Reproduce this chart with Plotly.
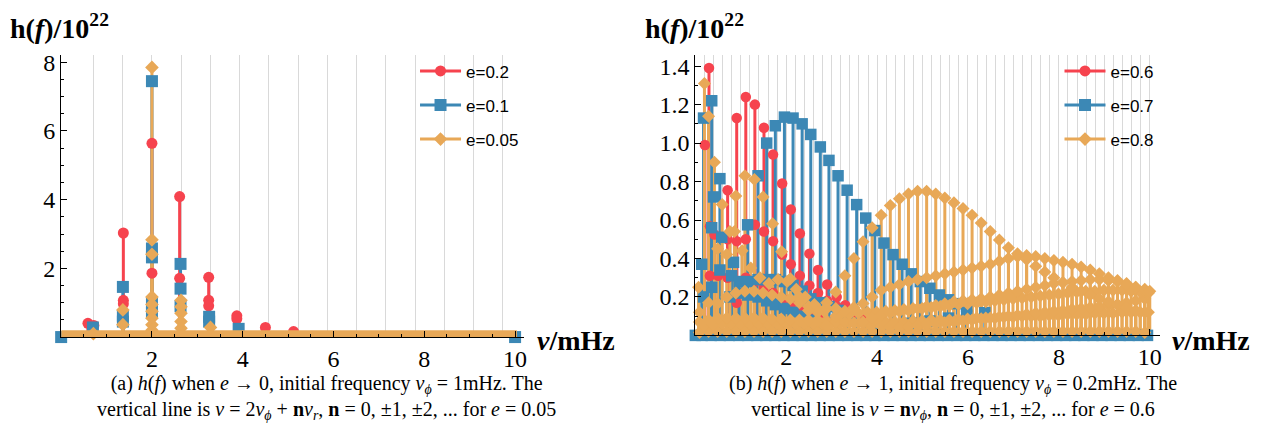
import plotly.graph_objects as go

W, H = 1273, 435
RED = "#F6434E"
BLUE = "#3C88B5"
ORANGE = "#E8A857"
GRID = "#D9D9D9"

# ---------------- left panel (e -> 0), nu_phi = 1 mHz ----------------
grid_left = [0.712, 1.356, 2.0, 2.644, 3.288, 3.932, 4.576, 5.22, 5.864,
             6.508, 7.152, 7.796, 8.44, 9.084, 9.728]

e02_x = [0.59, 0.72, 1.37, 1.37, 1.37, 2.0, 2.0, 2.61, 2.61, 3.25, 3.25, 3.25,
         3.87, 3.87, 4.50, 5.12]
e02_y = [0.40, 0.34, 3.03, 1.07, 0.97, 5.64, 1.86, 4.09, 1.71, 1.74, 1.07, 0.91,
         0.62, 0.53, 0.28, 0.16]

e01_x = [0.0, 0.70, 1.36, 1.36, 1.36, 2.0, 2.0, 2.0, 2.0, 2.0, 2.63, 2.63, 2.63,
         3.26, 3.26, 3.91, 10.0]
e01_y = [0.0, 0.28, 1.46, 0.62, 0.45, 7.45, 2.58, 2.32, 1.00, 0.70, 2.13, 1.41, 0.90,
         0.59, 0.45, 0.24, 0.0]

e005_x = [0.71, 1.36, 1.36, 2.0, 2.0, 2.0, 2.0, 2.0, 2.0, 2.0, 2.0, 2.0,
          2.64, 2.64, 2.64, 2.64, 2.64, 3.29]
e005_y = [0.10, 0.79, 0.36, 7.85, 2.83, 2.41, 1.17, 0.95, 0.75, 0.55, 0.36, 0.20,
          1.07, 0.88, 0.69, 0.45, 0.26, 0.28]
# near-zero high harmonics of e=0.05 (merged into a band along the axis)
e005_zero_x = [0.0, 10.04]
e005_zero_y = [0.0, 0.0]

# ---------------- right panel (e -> 1), nu_phi = 0.2 mHz ----------------
e06a_x = [0.21, 0.30, 0.71, 0.91, 1.11, 1.31, 1.51, 1.71, 1.91, 2.10, 2.30, 2.51,
          2.70, 2.90, 3.11, 3.30, 3.50, 3.70]
e06a_y = [0.99, 1.39, 0.755, 1.13, 1.24, 1.20, 1.08, 0.94, 0.79, 0.655, 0.53, 0.425,
          0.34, 0.265, 0.20, 0.157, 0.12, 0.09]
e06b_x = [0.32, 0.42, 0.71, 0.91, 1.11, 1.31, 1.51, 1.71, 1.91, 2.10, 2.30, 2.51,
          2.70, 2.90, 3.11, 3.30]
e06b_y = [0.567, 0.525, 0.50, 0.49, 0.50, 0.575, 0.54, 0.49, 0.42, 0.37, 0.31, 0.26,
          0.22, 0.18, 0.15, 0.12]
e06c_x = [0.32, 0.50, 0.71, 0.91, 1.11, 1.31, 1.51, 1.71, 1.91, 2.10, 2.30, 2.51,
          2.70, 2.90]
e06c_y = [0.31, 0.31, 0.30, 0.17, 0.30, 0.28, 0.25, 0.22, 0.19, 0.16, 0.13, 0.11,
          0.09, 0.07]

e07a_x = [0.18, 0.36, 0.54, 0.84, 1.15, 1.38, 1.57, 1.76, 1.96, 2.15, 2.35, 2.54,
          2.75, 2.94, 3.14, 3.34, 3.55, 3.75, 3.95, 4.15, 4.35, 4.55, 4.75, 4.95,
          5.16, 5.37, 5.57, 5.77, 5.97]
e07a_y = [1.13, 1.22, 0.815, 0.38, 0.575, 0.83, 1.00, 1.09, 1.135, 1.13, 1.10, 1.045,
          0.98, 0.91, 0.83, 0.755, 0.68, 0.61, 0.545, 0.48, 0.42, 0.37, 0.32, 0.28,
          0.245, 0.21, 0.185, 0.165, 0.15]
e07b_x = [0.14, 0.36, 0.40, 0.58, 0.80, 0.96, 1.15, 1.38, 1.57, 1.76, 1.96, 2.15,
          2.35, 2.54, 2.75, 2.94, 3.14, 3.34]
e07b_y = [0.37, 0.56, 0.72, 0.51, 0.31, 0.28, 0.28, 0.29, 0.29, 0.29, 0.28, 0.26,
          0.23, 0.19, 0.17, 0.15, 0.13, 0.10]
e07c_x = [0.18, 0.36, 0.54, 0.76, 0.96, 1.15, 1.38, 1.57, 1.76, 1.96, 2.15, 2.35, 2.54]
e07c_y = [0.20, 0.25, 0.34, 0.20, 0.22, 0.21, 0.20, 0.18, 0.16, 0.14, 0.12, 0.10, 0.08]
e07d_x = [3.95, 4.35, 4.75, 5.16, 5.57, 5.97, 6.37]
e07d_y = [0.04, 0.05, 0.063, 0.075, 0.09, 0.105, 0.118]
e07z_x = [0.0, 0.15, 0.35, 0.55, 0.75, 0.95, 1.15, 1.35, 1.55, 1.75, 1.95, 2.15, 2.35,
          2.55, 2.75, 2.95, 3.15, 3.35, 3.55, 3.75, 3.95, 4.15, 4.35, 4.55, 4.75,
          4.95, 5.15, 5.35, 5.55, 5.75, 5.95, 6.15, 6.35, 6.55, 6.75, 6.95, 7.15,
          7.35, 7.55, 7.75, 7.95, 8.15, 8.35, 8.55, 8.75, 8.95, 9.15, 9.35, 9.55,
          9.75, 9.95]
e07z_y = [0.0, 0.0, 0.0, 0.0, 0.0, 0.0, 0.0, 0.0, 0.0, 0.0, 0.0, 0.0, 0.0,
          0.0, 0.0, 0.0, 0.0, 0.0, 0.0, 0.0, 0.0, 0.0, 0.0, 0.0, 0.0, 0.0, 0.0,
          0.0, 0.0, 0.0, 0.0, 0.0, 0.0, 0.0, 0.0, 0.0, 0.0, 0.0, 0.0, 0.0, 0.0,
          0.0, 0.0, 0.0, 0.0, 0.0, 0.0, 0.0, 0.0, 0.0, 0.0]

e08a_x = [0.07, 0.20, 0.29, 0.42, 0.59, 0.76]
e08a_y = [0.25, 1.31, 1.14, 0.90, 0.68, 0.54]
e08b_x = [0.89, 1.09, 1.30, 1.49, 1.70, 1.90, 2.09, 2.29, 2.49, 2.69, 2.89]
e08b_y = [0.725, 0.83, 0.81, 0.72, 0.58, 0.435, 0.295, 0.20, 0.13, 0.08, 0.05]
e08c_x = [0.49, 0.69, 0.86, 1.03, 1.22, 1.42, 1.62, 1.82, 2.02, 2.22, 2.42, 2.62, 2.82]
e08c_y = [0.45, 0.42, 0.54, 0.44, 0.35, 0.30, 0.27, 0.29, 0.28, 0.24, 0.20, 0.16, 0.13]
e08d_x = [0.09, 0.29, 0.49, 0.69, 0.89, 1.09, 1.29, 1.49, 1.69, 1.89, 2.09, 2.29,
          2.49, 2.69, 2.89, 3.09]
e08d_y = [0.12, 0.17, 0.166, 0.20, 0.22, 0.23, 0.23, 0.22, 0.21, 0.20, 0.19, 0.17,
          0.15, 0.14, 0.14, 0.14]
e08e_x = [2.69, 2.89, 3.09, 3.29, 3.49, 3.69, 3.89, 4.09, 4.29, 4.49, 4.69, 4.89,
          5.09, 5.29, 5.49, 5.69, 5.89, 6.09, 6.29, 6.49, 6.69, 6.89, 7.09, 7.29,
          7.49, 7.69, 7.89, 8.09, 8.29, 8.49, 8.69, 8.89, 9.09, 9.29, 9.49, 9.69, 9.89]
e08e_y = [0.12, 0.17, 0.225, 0.31, 0.40, 0.487, 0.56, 0.625, 0.675, 0.71, 0.735, 0.75,
          0.75, 0.735, 0.715, 0.69, 0.66, 0.625, 0.585, 0.54, 0.496, 0.456, 0.425,
          0.395, 0.36, 0.33, 0.30, 0.275, 0.25, 0.23, 0.21, 0.19, 0.175, 0.16, 0.145,
          0.13, 0.12]
e08f_x = [3.09, 3.29, 3.49, 3.69, 3.89, 4.09, 4.29, 4.49, 4.69, 4.89, 5.09, 5.29,
          5.49, 5.69, 5.89, 6.09, 6.29, 6.49, 6.69, 6.89, 7.09, 7.29, 7.49, 7.69,
          7.89, 8.09, 8.29, 8.49, 8.69, 8.89, 9.09, 9.29, 9.49, 9.69, 9.89, 10.0]
e08f_y = [0.10, 0.125, 0.145, 0.166, 0.20, 0.235, 0.25, 0.265, 0.28, 0.29, 0.30, 0.31,
          0.32, 0.33, 0.34, 0.35, 0.36, 0.37, 0.385, 0.40, 0.41, 0.415, 0.41, 0.40,
          0.39, 0.38, 0.37, 0.355, 0.34, 0.32, 0.30, 0.285, 0.265, 0.25, 0.24, 0.23]
e08g_x = [3.69, 3.89, 4.09, 4.29, 4.49, 4.69, 4.89, 5.09, 5.29, 5.49, 5.69, 5.89,
          6.09, 6.29, 6.49, 6.69, 6.89, 7.09, 7.29, 7.49, 7.69, 7.89, 8.09, 8.29,
          8.49, 8.69, 8.89, 9.09, 9.29, 9.49, 9.69, 9.89]
e08g_y = [0.07, 0.09, 0.107, 0.115, 0.125, 0.13, 0.14, 0.15, 0.155, 0.165, 0.175, 0.18,
          0.185, 0.19, 0.20, 0.21, 0.22, 0.23, 0.24, 0.25, 0.26, 0.27, 0.275, 0.28,
          0.285, 0.29, 0.29, 0.285, 0.28, 0.27, 0.25, 0.23]
e08h_x = [4.49, 4.69, 4.89, 5.09, 5.29, 5.49, 5.69, 5.89, 6.09, 6.29, 6.49, 6.69,
          6.89, 7.09, 7.29, 7.49, 7.69, 7.89, 8.09, 8.29, 8.49, 8.69, 8.89, 9.09,
          9.29, 9.49, 9.69, 9.89]
e08h_y = [0.04, 0.045, 0.05, 0.055, 0.06, 0.066, 0.07, 0.075, 0.08, 0.086, 0.09, 0.095,
          0.10, 0.105, 0.11, 0.116, 0.12, 0.125, 0.13, 0.136, 0.14, 0.145, 0.15, 0.155,
          0.16, 0.17, 0.18, 0.19]
e08i_x = [0.09, 0.29, 0.49, 0.69, 0.89, 1.09, 1.29, 1.49, 1.69, 1.89, 2.09, 2.29,
          2.49, 2.69, 2.89, 3.09, 3.29, 3.49, 3.69, 3.89, 4.09, 4.29, 4.49, 4.69,
          4.89, 5.09, 5.29, 5.49, 5.69, 5.89, 6.09, 6.29, 6.49, 6.69, 6.89, 7.09,
          7.29, 7.49, 7.69, 7.89, 8.09, 8.29, 8.49, 8.69, 8.89, 9.09, 9.29, 9.49,
          9.69, 9.89]
e08i_y = [0.015, 0.02, 0.02, 0.02, 0.02, 0.02, 0.02, 0.02, 0.02, 0.02, 0.02, 0.02,
          0.02, 0.02, 0.02, 0.02, 0.02, 0.02, 0.02, 0.02, 0.02, 0.02, 0.02, 0.02,
          0.02, 0.02, 0.02, 0.02, 0.02, 0.02, 0.02, 0.02, 0.02, 0.02, 0.02, 0.02,
          0.02, 0.02, 0.02, 0.02, 0.02, 0.02, 0.02, 0.02, 0.02, 0.02, 0.02, 0.02,
          0.02, 0.015]
e08j_x = [0.09, 0.29, 0.49, 0.69, 0.89, 1.09, 1.29, 1.49, 1.69, 1.89, 2.09, 2.29,
          2.49, 2.69, 2.89, 3.09, 3.29, 3.49, 3.69, 3.89, 4.09, 4.29]
e08j_y = [0.07, 0.08, 0.09, 0.09, 0.09, 0.09, 0.09, 0.09, 0.085, 0.085, 0.08, 0.08,
          0.08, 0.075, 0.075, 0.07, 0.07, 0.065, 0.06, 0.055, 0.05, 0.045]
# low-amplitude harmonics sitting between the main lines
e08k_x = [0.19, 0.39, 0.59, 0.79, 0.99, 1.19, 1.39, 1.59, 1.79, 1.99, 2.19, 2.39,
          2.59, 2.79, 2.99, 3.19, 3.39, 3.59, 3.79, 3.99, 4.19, 4.39, 4.59, 4.79,
          4.99, 5.19, 5.39, 5.59, 5.79, 5.99, 6.19, 6.39, 6.59, 6.79, 6.99, 7.19,
          7.39, 7.59, 7.79, 7.99, 8.19, 8.39, 8.59, 8.79, 8.99, 9.19, 9.39, 9.59,
          9.79, 9.97]
e08k_y = [0.05, 0.055, 0.06, 0.06, 0.06, 0.06, 0.06, 0.06, 0.06, 0.06, 0.06, 0.06,
          0.06, 0.06, 0.06, 0.06, 0.065, 0.065, 0.065, 0.07, 0.07, 0.07, 0.07, 0.075,
          0.075, 0.08, 0.08, 0.08, 0.085, 0.085, 0.09, 0.09, 0.09, 0.095, 0.095, 0.10,
          0.10, 0.10, 0.105, 0.105, 0.11, 0.11, 0.11, 0.115, 0.115, 0.115, 0.12, 0.12,
          0.12, 0.12]
e08l_x = [3.19, 3.39, 3.59, 3.79, 3.99, 4.19, 4.39, 4.59, 4.79, 4.99, 5.19, 5.39,
          5.59, 5.79, 5.99, 6.19, 6.39, 6.59, 6.79, 6.99, 7.19, 7.39, 7.59, 7.79,
          7.99, 8.19, 8.39, 8.59, 8.79, 8.99, 9.19, 9.39, 9.59, 9.79, 9.97]
e08l_y = [0.11, 0.11, 0.115, 0.12, 0.12, 0.125, 0.13, 0.135, 0.14, 0.14, 0.145, 0.15,
          0.155, 0.16, 0.165, 0.17, 0.175, 0.18, 0.185, 0.19, 0.195, 0.20, 0.205, 0.21,
          0.215, 0.22, 0.225, 0.23, 0.23, 0.235, 0.235, 0.235, 0.23, 0.225, 0.22]

# combined series
r06_x = e06a_x + e06b_x + e06c_x
r06_y = e06a_y + e06b_y + e06c_y
r07_x = e07a_x + e07b_x + e07c_x + e07d_x + e07z_x
r07_y = e07a_y + e07b_y + e07c_y + e07d_y + e07z_y
r08_x = (e08i_x + e08k_x + e08j_x + e08h_x + e08l_x + e08g_x + e08f_x + e08d_x
         + e08c_x + e08e_x + e08b_x + e08a_x)
r08_y = (e08i_y + e08k_y + e08j_y + e08h_y + e08l_y + e08g_y + e08f_y + e08d_y
         + e08c_y + e08e_y + e08b_y + e08a_y)

fig = go.Figure()


def stems(x, y, color, xa, ya):
    return go.Scatter(
        x=x, y=y, mode="markers", xaxis=xa, yaxis=ya,
        marker=dict(size=2, opacity=0),
        error_y=dict(type="data", symmetric=False, array=[0] * len(y), arrayminus=y,
                     width=0, thickness=3, color=color),
        showlegend=False, hoverinfo="skip", cliponaxis=False)


def marks(x, y, color, symbol, size, xa, ya):
    return go.Scatter(
        x=x, y=y, mode="markers", xaxis=xa, yaxis=ya,
        marker=dict(symbol=symbol, size=size, color=color, line=dict(width=0)),
        showlegend=False, hoverinfo="skip", cliponaxis=False)


S_CIRC, S_SQ, S_DIA = 11, 12, 10.5

# left panel
fig.add_trace(stems(e02_x, e02_y, RED, "x", "y"))
fig.add_trace(stems(e01_x, e01_y, BLUE, "x", "y"))
fig.add_trace(stems(e005_x, e005_y, ORANGE, "x", "y"))
fig.add_trace(marks(e02_x, e02_y, RED, "circle", S_CIRC, "x", "y"))
fig.add_trace(marks(e01_x, e01_y, BLUE, "square", S_SQ, "x", "y"))
fig.add_trace(go.Scatter(x=e005_zero_x, y=e005_zero_y, mode="lines", xaxis="x", yaxis="y",
                         line=dict(color=ORANGE, width=13.5), showlegend=False,
                         hoverinfo="skip", cliponaxis=False))
fig.add_trace(marks(e005_x, e005_y, ORANGE, "diamond", S_DIA, "x", "y"))

# right panel
fig.add_trace(stems(r06_x, r06_y, RED, "x2", "y2"))
fig.add_trace(stems(r07_x, r07_y, BLUE, "x2", "y2"))
fig.add_trace(stems(r08_x, r08_y, ORANGE, "x2", "y2"))
fig.add_trace(marks(r06_x, r06_y, RED, "circle", S_CIRC - 0.5, "x2", "y2"))
fig.add_trace(marks(r07_x, r07_y, BLUE, "square", S_SQ - 0.5, "x2", "y2"))
fig.add_trace(marks(r08_x, r08_y, ORANGE, "diamond", S_DIA - 0.5, "x2", "y2"))

# legend entries
leg = [("e=0.2", RED, "circle", S_CIRC, "legend"), ("e=0.1", BLUE, "square", S_SQ, "legend"),
       ("e=0.05", ORANGE, "diamond", S_DIA, "legend"),
       ("e=0.6", RED, "circle", S_CIRC, "legend2"), ("e=0.7", BLUE, "square", S_SQ, "legend2"),
       ("e=0.8", ORANGE, "diamond", S_DIA, "legend2")]
for i, (nm, col, sym, sz, lg) in enumerate(leg):
    fig.add_trace(go.Scatter(x=[None], y=[None], mode="lines+markers", name=nm,
                             line=dict(color=col, width=3),
                             marker=dict(symbol=sym, size=sz, color=col),
                             legend=lg, legendgroup="g%d" % i,
                             xaxis="x" if lg == "legend" else "x2",
                             yaxis="y" if lg == "legend" else "y2"))

# dummy traces for the grid overlay axes
fig.add_trace(go.Scatter(x=[None], y=[None], xaxis="x3", yaxis="y", showlegend=False))
fig.add_trace(go.Scatter(x=[None], y=[None], xaxis="x4", yaxis="y2", showlegend=False))

TICKFONT = dict(family="Liberation Serif", size=24, color="black")
xleft_dom = [61.3 / W, 525.4 / W]
xright_dom = [697.0 / W, 1162.5 / W]
yleft_dom = [(H - 335.7) / H, (H - 50) / H]
yright_dom = [(H - 334.0) / H, (H - 50) / H]

xbase = dict(showline=True, linecolor="black", linewidth=1, ticks="inside", ticklen=6,
             tickwidth=1, tickcolor="black", tickfont=TICKFONT, showgrid=False,
             zeroline=False, layer="above traces", fixedrange=True,
             tickmode="array", tickvals=[2, 4, 6, 8, 10],
             minor=dict(tickmode="linear", tick0=0, dtick=0.5, ticks="inside",
                        ticklen=3, tickwidth=1, tickcolor="black", showgrid=False))

LEGFONT = dict(family="Liberation Sans", size=17, color="black")
fig.update_layout(
    width=W, height=H, margin=dict(l=0, r=0, t=0, b=0),
    paper_bgcolor="white", plot_bgcolor="white",
    xaxis=dict(xbase, domain=xleft_dom, range=[0, 10.2], anchor="y"),
    xaxis2=dict(xbase, domain=xright_dom, range=[0, 10.22], anchor="y2"),
    xaxis3=dict(overlaying="x", anchor="y", range=[0, 10.2], tickmode="array",
                tickvals=grid_left, showgrid=True, gridcolor=GRID, gridwidth=1,
                showticklabels=False, ticks="", showline=False, zeroline=False,
                fixedrange=True),
    xaxis4=dict(overlaying="x2", anchor="y2", range=[0, 10.22], tickmode="linear",
                tick0=0.2, dtick=0.2, showgrid=True, gridcolor=GRID, gridwidth=1,
                showticklabels=False, ticks="", showline=False, zeroline=False,
                fixedrange=True),
    yaxis=dict(domain=yleft_dom, range=[0, (335.7 - 50) / 34.83], anchor="x",
               showline=True, linecolor="black", linewidth=1, ticks="inside",
               ticklen=6, tickcolor="black", tickfont=TICKFONT, showgrid=False,
               zeroline=False, layer="above traces", fixedrange=True,
               tickmode="array", tickvals=[2, 4, 6, 8],
               minor=dict(tickmode="linear", tick0=0, dtick=0.5, ticks="inside",
                          ticklen=3, tickcolor="black", showgrid=False)),
    yaxis2=dict(domain=yright_dom, range=[0, (334 - 50) / 195.0], anchor="x2",
                showline=True, linecolor="black", linewidth=1, ticks="inside",
                ticklen=6, tickcolor="black", tickfont=TICKFONT, showgrid=False,
                zeroline=False, layer="above traces", fixedrange=True,
                tickmode="array", tickvals=[0.2, 0.4, 0.6, 0.8, 1.0, 1.2, 1.4],
                ticktext=["0.2", "0.4", "0.6", "0.8", "1.0", "1.2", "1.4"],
                minor=dict(tickmode="linear", tick0=0, dtick=0.1, ticks="inside",
                           ticklen=3, tickcolor="black", showgrid=False)),
    legend=dict(x=416 / W, y=1 - 48 / H, xanchor="left", yanchor="top",
                bgcolor="rgba(0,0,0,0)", traceorder="grouped", tracegroupgap=9,
                itemwidth=41, font=LEGFONT),
    legend2=dict(x=1062 / W, y=1 - 48 / H, xanchor="left", yanchor="top",
                 bgcolor="rgba(0,0,0,0)", traceorder="grouped", tracegroupgap=9,
                 itemwidth=41, font=LEGFONT),
    showlegend=True,
)

TITLE_FONT = dict(family="Liberation Serif", size=28, color="black")
ann = [
    dict(text="<b>h(<i>f</i>)/10<sup>22</sup></b>", x=8 / W, y=1 - 21 / H,
         xanchor="left", yanchor="middle", font=TITLE_FONT),
    dict(text="<b>h(<i>f</i>)/10<sup>22</sup></b>", x=645 / W, y=1 - 21 / H,
         xanchor="left", yanchor="middle", font=TITLE_FONT),
    dict(text="<b><i>ν</i>/mHz</b>", x=536 / W, y=1 - 339 / H, xanchor="left",
         yanchor="middle", font=dict(family="Liberation Serif", size=28, color="black")),
    dict(text="<b><i>ν</i>/mHz</b>", x=1173 / W, y=1 - 339 / H, xanchor="left",
         yanchor="middle", font=dict(family="Liberation Serif", size=28, color="black")),
]
CAP = dict(family="Liberation Serif", size=20, color="black")
caps = [
    ("(a) <i>h</i>(<i>f</i>) when <i>e</i> → 0, initial frequency <i>ν</i><sub><i>ϕ</i></sub> = 1mHz. The"
     "<br>vertical line is <i>ν</i> = 2<i>ν</i><sub><i>ϕ</i></sub> + <b>n</b><i>ν</i><sub><i>r</i></sub>, <b>n</b> = 0, ±1, ±2, ... for <i>e</i> = 0.05",
     327, 397),
    ("(b) <i>h</i>(<i>f</i>) when <i>e</i> → 1, initial frequency <i>ν</i><sub><i>ϕ</i></sub> = 0.2mHz. The"
     "<br>vertical line is <i>ν</i> = <b>n</b><i>ν</i><sub><i>ϕ</i></sub>, <b>n</b> = 0, ±1, ±2, ... for <i>e</i> = 0.6",
     955, 397),
]
for t, cx, cy in caps:
    ann.append(dict(text=t, x=cx / W, y=1 - cy / H, xanchor="center", yanchor="middle",
                    align="center", font=CAP))
for a in ann:
    a.update(xref="paper", yref="paper", showarrow=False)
fig.update_layout(annotations=ann)

fig.write_html("out.html")
